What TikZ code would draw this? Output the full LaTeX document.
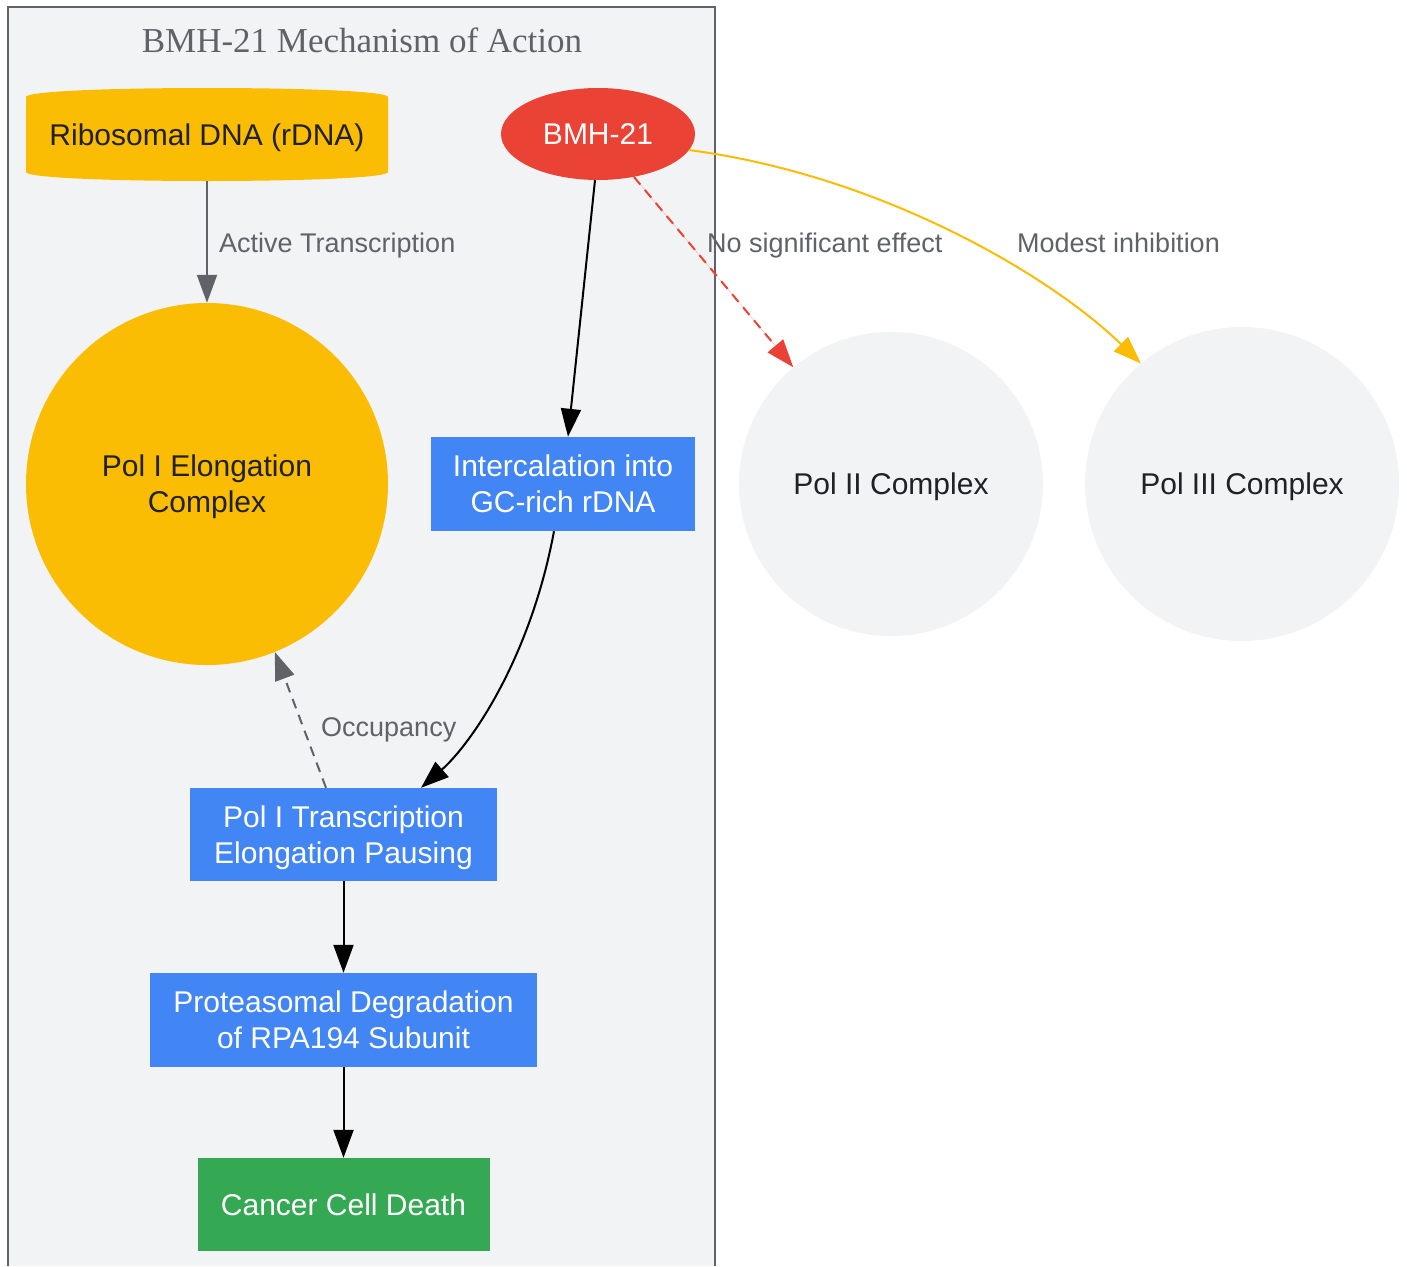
\documentclass[tikz,border=0pt]{standalone}
\usepackage{fontspec}
\setmainfont{Liberation Sans}
\newfontfamily\titlefont{Liberation Serif}
\usetikzlibrary{shapes.geometric,arrows.meta}
\definecolor{gyellow}{HTML}{FBBC04}
\definecolor{gred}{HTML}{EA4335}
\definecolor{gblue}{HTML}{4285F4}
\definecolor{ggreen}{HTML}{34A853}
\definecolor{glight}{HTML}{F1F3F4}
\definecolor{ggray}{HTML}{5F6368}
\definecolor{gdark}{HTML}{202124}
\tikzset{
  nodefont/.style={font=\fontsize{30}{36}\selectfont},
  boxnode/.style={rectangle, nodefont, text=white, align=center, inner sep=0pt},
  circnode/.style={circle, nodefont, text=gdark, align=center, inner sep=0pt},
  lbl/.style={anchor=west, text=ggray, font=\fontsize{27}{32}\selectfont, inner sep=0pt, text depth=0pt},
  tip/.style={-{Triangle[length=28pt,width=20pt]}},
  blackedge/.style={tip, draw=black, line width=2pt},
  grayedge/.style={tip, draw=ggray, line width=2pt},
}
\begin{document}
\begin{tikzpicture}[x=1pt,y=-1pt]
\useasboundingbox (0,0) rectangle (1407,1266);
\fill[white] (0,0) rectangle (1407,1266);
% cluster
\fill[glight] (8,7) rectangle (715,1266);
\draw[ggray, line width=2pt] (8,1266) -- (8,7) -- (715,7) -- (715,1266);
\node[text=ggray, font=\titlefont\fontsize{35}{42}\selectfont, inner sep=0pt] (title) at (362,40) {BMH-21 Mechanism of Action};
% cylinder shape for rDNA
\fill[gyellow] (26,97) .. controls (26,85) and (388,85) .. (388,97) -- (388,172) .. controls (388,184) and (26,184) .. (26,172) -- cycle;
\node[rectangle, nodefont, text=gdark, inner sep=0pt, text depth=0pt, minimum width=362pt, minimum height=93pt] (rdna) at (207,134.5) {Ribosomal DNA (rDNA)};
% BMH-21
\node[ellipse, fill=gred, nodefont, text=white, inner sep=0pt, text depth=0pt, minimum width=194pt, minimum height=92pt] (bmh) at (598,134) {BMH-21};
% circles
\node[circnode, fill=gyellow, minimum size=362pt, text depth=0pt] (pol1) at (207,484) {Pol I Elongation\\Complex};
\node[circnode, fill=glight, minimum size=304pt, text depth=0pt] (pol2) at (891,484) {Pol II Complex};
\node[circnode, fill=glight, minimum size=314pt, text depth=0pt] (pol3) at (1242,484) {Pol III Complex};
% boxes
\node[boxnode, fill=gblue, minimum width=264pt, minimum height=94pt] (inter) at (563,484) {Intercalation into\\GC-rich rDNA};
\node[boxnode, fill=gblue, minimum width=307pt, minimum height=93pt, text depth=0pt] (ptrans) at (343.5,834.5) {Pol I Transcription\\Elongation Pausing};
\node[boxnode, fill=gblue, minimum width=387pt, minimum height=94pt] (prot) at (343.5,1020) {Proteasomal Degradation\\of RPA194 Subunit};
\node[boxnode, fill=ggreen, minimum width=292pt, minimum height=93pt, text depth=0pt] (cancer) at (343.5,1204.5) {Cancer Cell Death};
% edges
\draw[grayedge] (rdna.south) -- (pol1.north);
\node[lbl] (l1) at (219,243) {Active Transcription};
\draw[blackedge] ([xshift=-3pt]bmh.south) -- ([xshift=5pt]inter.north);
\draw[tip, draw=gred, fill=gred, line width=2pt, dash pattern=on 10pt off 7pt] (bmh) -- (pol2);
\node[lbl] (l2) at (707,243) {No significant effect};
\draw[tip, draw=gyellow, line width=2pt] (bmh.-10) .. controls (880,175) and (1050,275) .. (pol3.130);
\node[lbl] (l3) at (1017,243) {Modest inhibition};
\draw[blackedge] ([xshift=-9pt]inter.south) .. controls (530,660) and (470,745) .. ([xshift=77.5pt]ptrans.north);
\draw[grayedge, dash pattern=on 10pt off 7pt] ([xshift=-17.5pt]ptrans.north) -- (pol1.-68);
\node[lbl] (l4) at (321,727) {Occupancy};
\draw[blackedge] (ptrans.south) -- (prot.north);
\draw[blackedge] (prot.south) -- (cancer.north);
\end{tikzpicture}
\end{document}
